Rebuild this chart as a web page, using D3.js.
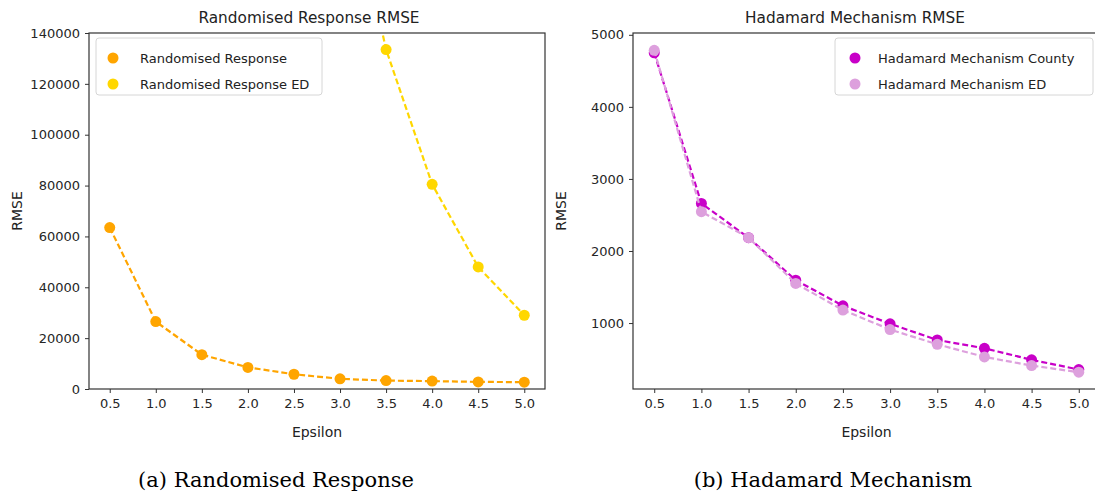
<!DOCTYPE html>
<html>
<head>
<meta charset="utf-8">
<script src="https://cdn.jsdelivr.net/npm/d3@7"></script>
<style>
  body { margin: 0; background: #fff; }
  svg { display: block; }
  .tick text { font-family: "DejaVu Sans"; fill: #262626; }
</style>
</head>
<body>
<div id="chart"></div>
<script>
const epsilon = [0.5, 1.0, 1.5, 2.0, 2.5, 3.0, 3.5, 4.0, 4.5, 5.0];
const xTicks = epsilon;

// left panel
const rrValues = [63500, 26500, 13500, 8500, 5800, 4000, 3300, 3100, 2800, 2700];
// values below 3.0 lie far above the y limit and cannot be read
const rrEdValues = [null, null, null, null, null, 215000, 133500, 80500, 48000, 29000];
const rrYTicks = [0, 20000, 40000, 60000, 80000, 100000, 120000, 140000];

// right panel
const hmCountyValues = [4750, 2660, 2185, 1595, 1240, 990, 765, 650, 490, 355];
const hmEdValues = [4785, 2545, 2185, 1550, 1180, 910, 705, 530, 410, 318];
const hmYTicks = [1000, 2000, 3000, 4000, 5000];

const width = 1095, height = 496;

const svg = d3.select("#chart").append("svg")
	.attr("width", width)
	.attr("height", height);

function drawPanel(opts) {
	const { left, right, top, bottom, yDomain, yTicks, title, titleX, series, legend, clipId, caption, captionX } = opts;

	const x = d3.scaleLinear().domain([0.275, 5.225]).range([left, right]);
	const y = d3.scaleLinear().domain(yDomain).range([bottom, top]);

	svg.append("clipPath")
		.attr("id", clipId)
		.append("rect")
		.attr("x", left)
		.attr("y", top)
		.attr("width", right - left)
		.attr("height", bottom - top);

	// axes
	const xAxis = svg.append("g")
		.attr("transform", `translate(0,${bottom})`)
		.call(d3.axisBottom(x).tickValues(xTicks).tickFormat(d3.format(".1f")).tickSizeOuter(0).tickSize(4).tickPadding(6));
	const yAxis = svg.append("g")
		.attr("transform", `translate(${left},0)`)
		.call(d3.axisLeft(y).tickValues(yTicks).tickFormat(d3.format("d")).tickSizeOuter(0).tickSize(4).tickPadding(5));

	[xAxis, yAxis].forEach(g => {
		g.select(".domain").remove();
		g.selectAll(".tick line").attr("stroke", "#333");
		g.selectAll(".tick text").attr("font-size", "13px");
	});

	// frame
	svg.append("rect")
		.attr("x", left)
		.attr("y", top)
		.attr("width", right - left)
		.attr("height", bottom - top)
		.attr("fill", "none")
		.attr("stroke", "#333")
		.attr("stroke-width", 1.2);

	const plot = svg.append("g").attr("clip-path", `url(#${clipId})`);

	const line = d3.line()
		.defined(d => d.v !== null)
		.x(d => x(d.e))
		.y(d => y(d.v));

	series.forEach(s => {
		const data = epsilon.map((e, i) => ({ e: e, v: s.values[i] }));
		plot.append("path")
			.attr("d", line(data))
			.attr("fill", "none")
			.attr("stroke", s.color)
			.attr("stroke-width", 2.2)
			.attr("stroke-dasharray", "6,3");
		plot.selectAll(null)
			.data(data.filter(d => d.v !== null))
			.join("circle")
			.attr("cx", d => x(d.e))
			.attr("cy", d => y(d.v))
			.attr("r", 5.5)
			.attr("fill", s.color);
	});

	// titles and labels
	svg.append("text")
		.attr("x", titleX)
		.attr("y", top - 10)
		.attr("text-anchor", "middle")
		.attr("font-family", "DejaVu Sans")
		.attr("font-size", "15.3px")
		.attr("fill", "#222")
		.text(title);

	svg.append("text")
		.attr("x", (left + right) / 2)
		.attr("y", bottom + 48)
		.attr("text-anchor", "middle")
		.attr("font-family", "DejaVu Sans")
		.attr("font-size", "14px")
		.attr("fill", "#222")
		.text("Epsilon");

	svg.append("text")
		.attr("transform", `translate(${left - 67},${(top + bottom) / 2}) rotate(-90)`)
		.attr("text-anchor", "middle")
		.attr("font-family", "DejaVu Sans")
		.attr("font-size", "14px")
		.attr("fill", "#222")
		.text("RMSE");

	// legend
	const lg = svg.append("g");
	lg.append("rect")
		.attr("x", legend.x)
		.attr("y", legend.y)
		.attr("width", legend.w)
		.attr("height", 57)
		.attr("rx", 3)
		.attr("fill", "#fff")
		.attr("fill-opacity", 0.85)
		.attr("stroke", "#d6d6d6");
	series.forEach((s, i) => {
		lg.append("circle")
			.attr("cx", legend.x + legend.mx)
			.attr("cy", legend.y + 20 + i * 26)
			.attr("r", 5.5)
			.attr("fill", s.color);
		lg.append("text")
			.attr("x", legend.x + legend.tx)
			.attr("y", legend.y + 20 + i * 26)
			.attr("dy", "0.35em")
			.attr("font-family", "DejaVu Sans")
			.attr("font-size", "13px")
			.attr("fill", "#222")
			.text(s.name);
	});

	svg.append("text")
		.attr("x", captionX)
		.attr("y", 487)
		.attr("text-anchor", "middle")
		.attr("font-family", "DejaVu Serif")
		.attr("font-size", "21px")
		.attr("fill", "#000")
		.text(caption);
}

drawPanel({
	left: 89, right: 545, top: 33, bottom: 389,
	yDomain: [0, 140000], yTicks: rrYTicks,
	title: "Randomised Response RMSE", titleX: 309,
	series: [
		{ name: "Randomised Response", values: rrValues, color: "#ffa500" },
		{ name: "Randomised Response ED", values: rrEdValues, color: "#ffd700" }
	],
	legend: { x: 96, y: 38, w: 226, mx: 17, tx: 44 },
	clipId: "clipA",
	caption: "(a) Randomised Response",
	captionX: 276
});

drawPanel({
	left: 633, right: 1100, top: 33, bottom: 389,
	yDomain: [85, 5025], yTicks: hmYTicks,
	title: "Hadamard Mechanism RMSE", titleX: 855,
	series: [
		{ name: "Hadamard Mechanism County", values: hmCountyValues, color: "#c800c8" },
		{ name: "Hadamard Mechanism ED", values: hmEdValues, color: "#dda0dd" }
	],
	legend: { x: 835, y: 38, w: 258, mx: 20, tx: 43 },
	clipId: "clipB",
	caption: "(b) Hadamard Mechanism",
	captionX: 833
});
</script>
</body>
</html>
